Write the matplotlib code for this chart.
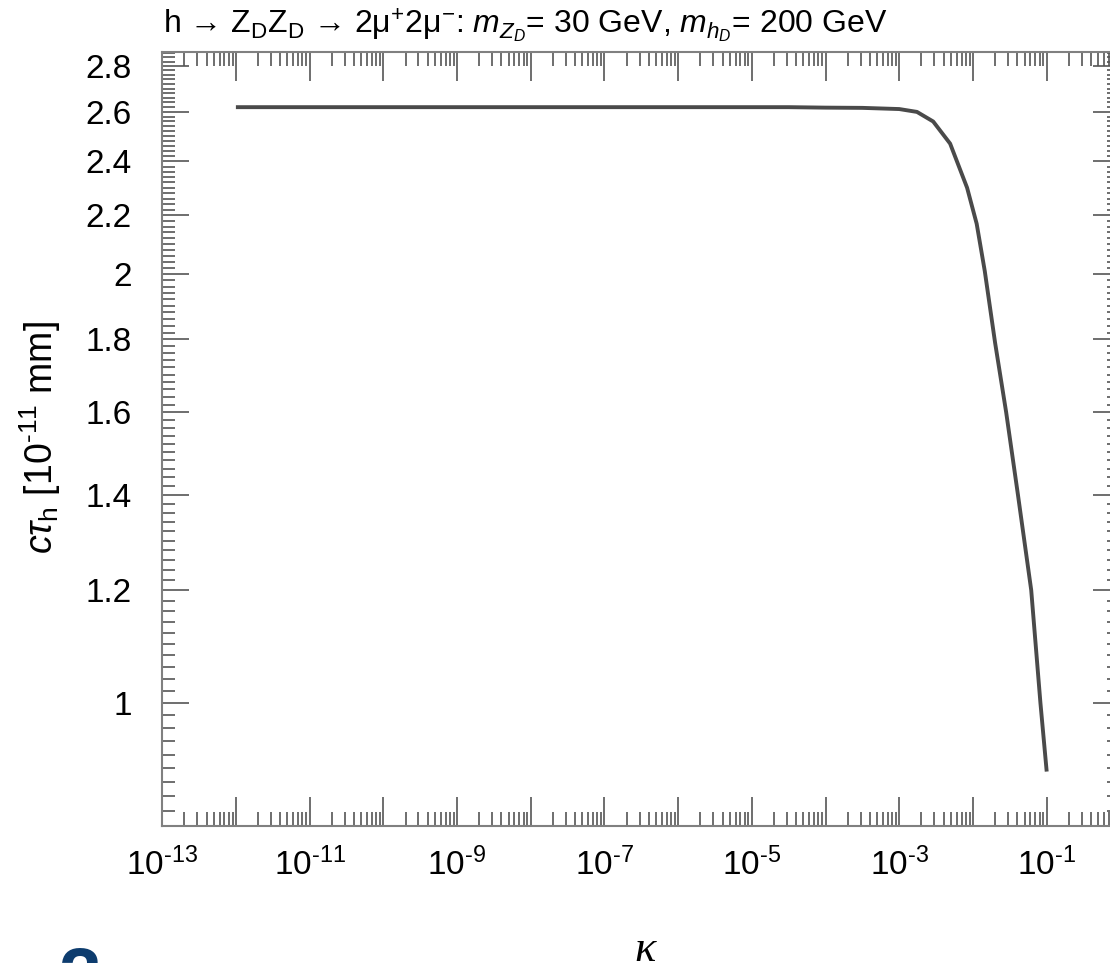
import numpy as np
import matplotlib
matplotlib.use("Agg")
import matplotlib.pyplot as plt
from matplotlib.ticker import FixedLocator, FuncFormatter, NullFormatter

plt.rcParams['font.family'] = ['Liberation Sans', 'DejaVu Sans']
plt.rcParams['mathtext.fontset'] = 'custom'
plt.rcParams['mathtext.rm'] = 'Liberation Sans'
plt.rcParams['mathtext.it'] = 'Liberation Sans:italic'
plt.rcParams['mathtext.bf'] = 'Liberation Sans:bold'

# values
log_kappa = [-12, -10, -8, -6, -4.5, -4, -3.5, -3.0, -2.76, -2.54, -2.31, -2.08,
             -1.95, -1.84, -1.7, -1.55, -1.39, -1.21, -1.085, -1.0]
ctau = [2.62, 2.62, 2.62, 2.62, 2.62, 2.618, 2.617, 2.612, 2.60, 2.56, 2.47, 2.30,
        2.17, 2.01, 1.79, 1.6, 1.4, 1.2, 1.0, 0.895]
y_ticks = [1.0, 1.2, 1.4, 1.6, 1.8, 2.0, 2.2, 2.4, 2.6, 2.8]
y_labels = ['1', '1.2', '1.4', '1.6', '1.8', '2', '2.2', '2.4', '2.6', '2.8']

kappa = 10.0 ** np.array(log_kappa)

W, H = 1110, 963
fig = plt.figure(figsize=(W / 100, H / 100), dpi=100)
ax = fig.add_axes([162.2 / W, 1 - 825.7 / H, (1120.4 - 162.2) / W, (825.7 - 52.3) / H])

ax.plot(kappa, ctau, color='#4a4a4a', lw=2.8, solid_capstyle='butt', solid_joinstyle='round')

ax.set_xscale('log')
ax.set_yscale('log')
ax.set_xlim(1e-13, 1)
ax.set_ylim(0.82, 2.863)

xmaj = [10.0 ** e for e in range(-13, 1)]
xmin = [m * 10.0 ** e for e in range(-13, 0) for m in range(2, 10)]
ax.xaxis.set_major_locator(FixedLocator(xmaj))
ax.xaxis.set_minor_locator(FixedLocator(xmin))
ax.xaxis.set_major_formatter(FuncFormatter(
    lambda v, p: r'10$^{\text{-%d}}$' % -round(np.log10(v)) if round(np.log10(v)) % 2 else ''))
ax.xaxis.set_minor_formatter(NullFormatter())

ymin_ticks = [round(v, 2) for v in np.arange(0.82, 2.87, 0.02)]
ax.yaxis.set_major_locator(FixedLocator(y_ticks))
ax.yaxis.set_minor_locator(FixedLocator(ymin_ticks))
ax.set_yticklabels(y_labels)
ax.yaxis.set_minor_formatter(NullFormatter())

ax.tick_params(axis='x', which='both', direction='in', top=True, color='#555555', width=1.2)
ax.tick_params(axis='x', which='major', length=21, labelsize=24, pad=16)
ax.tick_params(axis='x', which='minor', length=10)
ax.tick_params(axis='y', which='both', direction='in', right=True, color='#555555', width=1.2)
ax.tick_params(axis='y', which='major', length=19.5, labelsize=24, pad=22)
ax.tick_params(axis='y', which='minor', length=9.5)
for s in ax.spines.values():
    s.set_color('#808080')
    s.set_linewidth(1.5)

fig.text(163 / W, 1 - 33 / H,
         r'h → Z$_{\mathregular{D}}$Z$_{\mathregular{D}}$ → 2μ$^{+}$2μ$^{−}$: '
         r'$m_{Z_D}$= 30 GeV, $m_{h_D}$= 200 GeV',
         fontsize=23, ha='left', va='baseline')

fig.text(40 / W, 1 - 438 / H, r'$c\tau_{\mathregular{h}}$ [10$^{\text{-11}}$ mm]',
         fontsize=27, rotation=90, ha='center', va='center')

fig.text(645 / W, 1 - 961 / H, 'κ', family='Liberation Serif', style='italic',
         fontsize=32, ha='center', va='baseline')

fig.text(58 / W, 1 - 1001 / H, '2', fontsize=55, fontweight='bold', color='#0d3c6e',
         ha='left', va='baseline')

fig.savefig('out.png', dpi=100)
